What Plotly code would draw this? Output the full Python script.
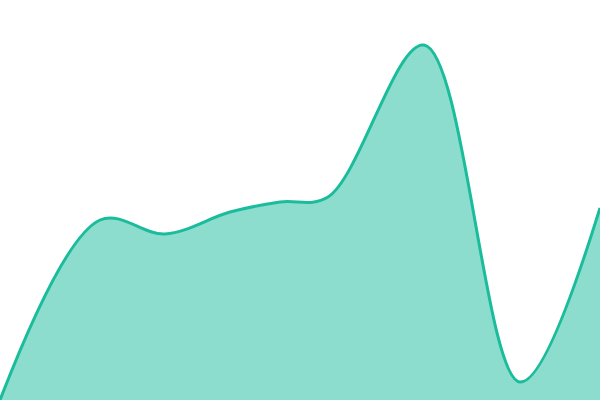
import plotly.graph_objects as go

# points (x in px across, value = height from bottom)
xs = [0, 100, 165, 230, 280, 328, 424, 520, 600]
values = [0, 180, 166, 188, 198, 203, 355, 18, 192]

fig = go.Figure()
fig.add_trace(go.Scatter(
    x=xs, y=values,
    mode="lines",
    line=dict(color="#1abc9c", width=3, shape="spline", smoothing=1.0),
    fill="tozeroy",
    fillcolor="rgba(26,188,156,0.5)",
    hoverinfo="skip",
))

fig.update_layout(
    width=600, height=400,
    margin=dict(l=0, r=0, t=0, b=0),
    paper_bgcolor="white", plot_bgcolor="white",
    showlegend=False,
    xaxis=dict(range=[0, 600], visible=False, fixedrange=True),
    yaxis=dict(range=[0, 400], visible=False, fixedrange=True),
)

# drop the default body margin so the plot sits flush in the window
fig.write_html("out.html", config=dict(displayModeBar=False),
               post_script="document.body.style.margin='0';document.body.style.overflow='hidden';")
